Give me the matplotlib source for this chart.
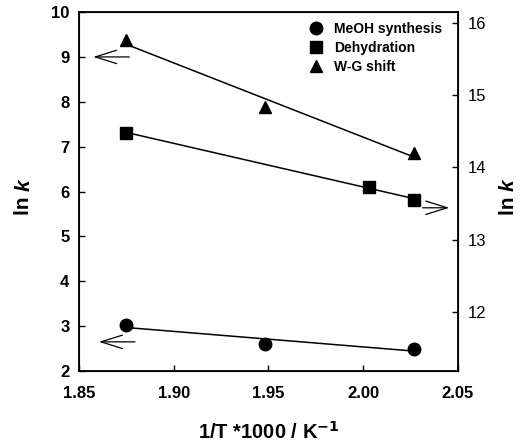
import numpy as np
import matplotlib
matplotlib.use("Agg")
import matplotlib.pyplot as plt
from matplotlib.lines import Line2D

plt.rcParams['font.family'] = ['Liberation Sans', 'DejaVu Sans']

# 1/T *1000 values and ln k
x_meoh = [1.875, 1.948, 2.027]
lnk_meoh = [3.03, 2.60, 2.50]          # left axis
x_dehyd = [1.875, 2.003, 2.027]
lnk_dehyd = [14.48, 13.73, 13.55]      # right axis
x_wgs = [1.875, 1.948, 2.027]
lnk_wgs = [9.38, 7.88, 6.86]           # left axis

fig = plt.figure(figsize=(5.31, 4.47), dpi=100)
ax = fig.add_axes([0.149, 0.170, 0.713, 0.803])
ax2 = ax.twinx()


def fit_line(a, x, y):
	p = np.polyfit(x, y, 1)
	xs = np.array([x[0], x[-1]])
	a.plot(xs, np.polyval(p, xs), color='black', lw=1.1, zorder=2)


ax.plot(x_meoh, lnk_meoh, 'o', color='black', ms=9, zorder=3)
ax.plot(x_wgs, lnk_wgs, '^', color='black', ms=9, zorder=3)
ax2.plot(x_dehyd, lnk_dehyd, 's', color='black', ms=8, zorder=3)
fit_line(ax, x_meoh, lnk_meoh)
fit_line(ax, x_wgs, lnk_wgs)
fit_line(ax2, x_dehyd, lnk_dehyd)

ax.set_xlim(1.85, 2.05)
ax.set_ylim(2, 10)
ax2.set_ylim(11.18, 16.15)
ax.set_xticks([1.85, 1.90, 1.95, 2.00, 2.05])
ax.set_xticklabels(['1.85', '1.90', '1.95', '2.00', '2.05'])
ax.set_yticks(range(2, 11))
ax2.set_yticks([12, 13, 14, 15, 16])

for lab in ax.get_xticklabels() + ax.get_yticklabels():
	lab.set_fontweight('bold')
ax.tick_params(direction='in', length=4, labelsize=12, width=1)
ax.tick_params(axis='x', pad=11)
ax.tick_params(axis='y', pad=7)
ax2.tick_params(direction='in', length=4, labelsize=12, width=1, pad=7)

ax.set_xlabel(r'1/T *1000 / K$^{\mathbf{-1}}$', fontsize=14.5, fontweight='bold', labelpad=14)

# "ln k" with italic k on both sides
for xf in (0.045, 0.957):
	fig.text(xf, 0.573, 'ln ', rotation=90, fontsize=15, fontweight='bold', ha='center', va='top')
	fig.text(xf, 0.573, 'k', rotation=90, fontsize=15, fontweight='bold', style='italic', ha='center', va='bottom')

for sp in ax.spines.values():
	sp.set_linewidth(1.3)

# arrows pointing to the axis each series belongs to
arrow = dict(arrowstyle='->, head_length=0.7, head_width=0.22', color='black', lw=0.9, mutation_scale=22)
ax.annotate('', xy=(1.856, 9.0), xytext=(1.878, 9.0), arrowprops=arrow)
ax.annotate('', xy=(1.859, 2.65), xytext=(1.881, 2.65), arrowprops=arrow)
ax2.annotate('', xy=(2.047, 13.44), xytext=(2.030, 13.44), arrowprops=arrow)

# legend
handles = [
	Line2D([], [], marker='o', ls='none', color='black', ms=9),
	Line2D([], [], marker='s', ls='none', color='black', ms=8),
	Line2D([], [], marker='^', ls='none', color='black', ms=9),
]
leg = ax.legend(handles, ['MeOH synthesis', 'Dehydration', 'W-G shift'],
	loc='upper right', bbox_to_anchor=(0.985, 1.0), frameon=False,
	prop={'weight': 'bold', 'size': 10},
	handletextpad=0.5, labelspacing=0.35, borderaxespad=0.3, handlelength=1.6)

fig.savefig('out.png', dpi=100)
